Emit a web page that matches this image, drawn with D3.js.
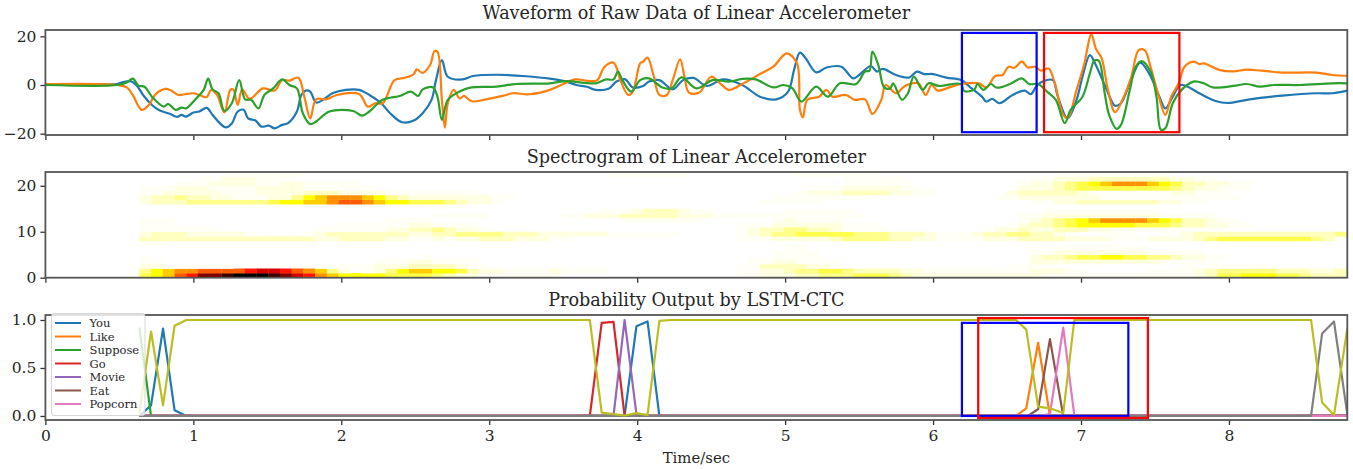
<!DOCTYPE html>
<meta charset="utf-8">
<style>
body { margin: 0; background: #fff; }
svg { display: block; }
text { font-family: "DejaVu Serif", serif; fill: #262626; }
.axis text { font-size: 15.5px; }
.axis path { display: none; }
.axis line { stroke: #333; stroke-width: 1.3; }
.frame { fill: none; stroke: #555; stroke-width: 1.8; }
.title { font-size: 17.6px; text-anchor: middle; }
.wave, .prob { fill: none; stroke-width: 2.2; stroke-linejoin: round; }
.box { fill: none; stroke-width: 2.2; }
.legend text { font-size: 11.5px; }
</style>
<svg width="1353" height="469"></svg>
<script src="https://d3js.org/d3.v7.min.js"></script>
<script>

// time axis shared by the three panels
var xMax = 8.8;
var xTicks = [0, 1, 2, 3, 4, 5, 6, 7, 8];

// raw accelerometer traces
var blueTime = [0, .48, .515, .58, .62, .66, .72, .77, .84, .89, .92, .95, 1, 1.04, 1.09, 1.13, 1.18, 1.22, 1.26, 1.3, 1.34, 1.37, 1.42, 1.46, 1.51, 1.55, 1.6, 1.64, 1.7, 1.73, 1.76, 1.79, 1.83, 1.89, 1.94, 2.03, 2.12, 2.19, 2.27, 2.33, 2.41, 2.49, 2.55, 2.61, 2.64, 2.68, 2.72, 2.82, 2.89, 3.05, 3.25, 3.41, 3.52, 3.59, 3.66, 3.72, 3.81, 3.86, 3.92, 3.97, 4.04, 4.08, 4.15, 4.24, 4.31, 4.38, 4.47, 4.58, 4.71, 4.83, 4.94, 5.02, 5.06, 5.1, 5.14, 5.21, 5.28, 5.38, 5.46, 5.5, 5.58, 5.62, 5.66, 5.75, 5.84, 5.89, 5.94, 6, 6.09, 6.19, 6.26, 6.33, 6.36, 6.4, 6.45, 6.52, 6.56, 6.62, 6.66, 6.7, 6.74, 6.81, 6.84, 6.91, 6.97, 7.01, 7.06, 7.1, 7.17, 7.23, 7.27, 7.33, 7.4, 7.46, 7.53, 7.57, 7.62, 7.67, 7.71, 7.8, 7.91, 7.99, 8.14, 8.36, 8.59, 8.7, 8.8];
var blueValues = [.4, .4, 1, 1.5, -.4, -4.1, -8.2, -10.4, -11.8, -13.1, -12.3, -13, -11.3, -10.9, -9.4, -12.3, -15.8, -17.4, -15.8, -10.9, -10.2, -13.7, -14.6, -17.1, -16.7, -17.8, -16.4, -15.7, -10.9, -4.1, -2.3, -2.7, -7.2, -5.5, -3.4, -2, -2, -4.1, -7.5, -11.6, -15.3, -14.6, -11.6, -6.1, 2, 10.2, 3.4, 2.3, 3.7, 4.2, 3.6, 2.6, 1.4, 0, -.7, -2, -1.4, 1.4, 2.3, -1, -.4, 1.4, 2, -1.8, 2, 2.9, -.4, 2.3, 0, -4.8, -5.9, -2.7, 6.1, 13.3, 10.9, 5.2, 7.2, 7.5, 2.7, 4.1, 7.8, 5.5, 6.6, 4.1, 3.1, 5.5, 4.5, 4.5, 3, 2, -1.4, -4.8, -6.8, -5.7, -7.5, -4.8, -3.4, -2.3, -3.8, -.4, 1.4, 2, -4.1, -13.7, -6.1, 3.4, 12.3, 8.2, -1.4, -8.5, -7.5, .7, 9.2, 4.8, -4.8, -9.6, -4.8, 0, -.4, -3.4, -6.6, -7.4, -5.9, -4.4, -3.4, -3.4, -2.3];

var orangeTime = [0, .49, .55, .59, .65, .7, .74, .81, .85, .9, .94, 1, 1.04, 1.09, 1.12, 1.16, 1.21, 1.25, 1.27, 1.3, 1.33, 1.38, 1.47, 1.55, 1.6, 1.65, 1.71, 1.75, 1.79, 1.83, 1.9, 1.97, 2.12, 2.18, 2.23, 2.28, 2.36, 2.43, 2.49, 2.51, 2.55, 2.6, 2.63, 2.65, 2.68, 2.7, 2.72, 2.76, 2.8, 2.83, 2.88, 2.98, 3.09, 3.16, 3.27, 3.41, 3.5, 3.58, 3.68, 3.73, 3.78, 3.84, 3.89, 3.94, 3.97, 4.02, 4.04, 4.07, 4.11, 4.15, 4.2, 4.24, 4.29, 4.32, 4.35, 4.42, 4.5, 4.56, 4.62, 4.71, 4.83, 4.92, 5.01, 5.08, 5.1, 5.12, 5.15, 5.23, 5.28, 5.32, 5.41, 5.47, 5.54, 5.59, 5.65, 5.68, 5.75, 5.81, 5.9, 5.95, 5.99, 6.03, 6.11, 6.19, 6.31, 6.36, 6.42, 6.47, 6.51, 6.55, 6.6, 6.64, 6.69, 6.73, 6.78, 6.82, 6.88, 6.91, 6.97, 7.02, 7.07, 7.1, 7.14, 7.18, 7.23, 7.28, 7.34, 7.39, 7.43, 7.47, 7.52, 7.57, 7.61, 7.66, 7.7, 7.76, 7.8, 7.83, 7.94, 8.03, 8.12, 8.22, 8.36, 8.59, 8.7, 8.8];
var orangeValues = [.4, 0, -1, -4.1, -10.2, -8.2, -4.1, -1.6, -2.3, -4.1, -3.8, -3.4, -4.1, -5, -2, -4.1, -11.3, -2, -1.8, -8.2, -1.8, -5.7, -1.4, -2.3, 2, 1.8, 3, -4.8, -13.7, -5.9, -5.9, -4.1, -3.7, -8.9, -7.5, -7.5, 2, 3, 4.5, 6.4, 5, 8.2, 13.9, 13.7, -6.1, -17.5, -7.5, -2, -5.5, -4.5, -6.7, -5.9, -4.5, -3.4, -3.8, -2, .4, 2.3, 1.6, 2, 7.5, 9.2, 1.4, -4.1, -2.7, 8.9, 9.6, 11.3, 4.1, -4.1, -4.1, 2, 10.5, 3.4, -3.1, -3.1, 3.4, .7, -2, .4, 4.5, 7.5, 13, 8.9, -10.2, -13.3, -6.1, -4.8, -2, -4.8, -4.1, -6.1, -5.9, -11.9, -6.1, 0, -3.4, -.4, .7, -4.1, 0, -2.3, -1, .4, .7, -1, 3.7, 4.1, 7.5, 7.1, 9.6, 7.2, 7.5, 5.9, 6.8, 1.4, -12.3, -13.7, -2, 8.2, 20.8, 15, 10.9, -1.4, -11.2, -6.1, 3.4, 14.3, 14.3, 7.5, -3.4, -12.3, -4.8, .7, 7.5, 9.6, 8.6, 8.9, 6.1, 5.6, 6.3, 5.9, 5.1, 5.1, 4.1, 3.8];

var greenTime = [0, .49, .55, .59, .63, .67, .72, .8, .83, .88, .92, .95, 1.02, 1.07, 1.1, 1.13, 1.17, 1.21, 1.26, 1.31, 1.35, 1.39, 1.44, 1.48, 1.54, 1.6, 1.65, 1.7, 1.74, 1.79, 1.83, 1.92, 2.08, 2.14, 2.19, 2.28, 2.4, 2.47, 2.52, 2.55, 2.62, 2.65, 2.68, 2.72, 2.8, 2.87, 3.05, 3.18, 3.41, 3.52, 3.72, 3.79, 3.84, 3.87, 3.9, 3.96, 4.02, 4.08, 4.17, 4.23, 4.3, 4.4, 4.51, 4.62, 4.71, 4.8, 4.92, 4.99, 5.05, 5.11, 5.21, 5.29, 5.37, 5.48, 5.54, 5.57, 5.59, 5.63, 5.67, 5.71, 5.73, 5.79, 5.83, 5.87, 5.93, 5.97, 6.04, 6.19, 6.21, 6.28, 6.3, 6.34, 6.39, 6.43, 6.52, 6.6, 6.65, 6.71, 6.77, 6.83, 6.89, 6.93, 7.01, 7.06, 7.09, 7.12, 7.16, 7.19, 7.24, 7.27, 7.33, 7.37, 7.41, 7.47, 7.51, 7.54, 7.57, 7.62, 7.68, 7.76, 7.83, 7.89, 8.03, 8.12, 8.21, 8.3, 8.48, 8.7, 8.8];
var greenValues = [0, 0, 1, 2.6, -.3, -.7, -4.8, -8.9, -7.8, -10.2, -9.3, -9.6, -5.5, -2, 2.6, -1.8, -3.4, -10.7, -7.5, 2, -5.9, -6.1, -9.6, -4.1, -1.4, 2.3, 0, -1.4, -11.6, -16.1, -15, -10.9, -10.7, -12.6, -10.9, -6.1, -4.4, -2.7, -4.5, -1.8, -1, -4.8, -14.3, -6.1, -2.7, -1.1, -.7, .4, .7, 1.6, .7, 2.3, 2.3, 5.5, 2, -2.7, 2, 2.7, -1, -1.4, 3.1, -1.4, 2, 1.4, 2.5, 2.3, -1, 0, -1.4, -6.8, -.7, -4.8, .7, .4, 5.5, 5.9, 13.7, 8.2, -1, -1.4, .7, -6.1, -3.4, 3.4, -2, .7, -.4, .4, -2.5, -1.8, .4, -2, .4, -1.1, .4, 2.7, .4, .4, -2.7, -6.1, -15.7, -10.2, -4.8, 4.8, 10, 10, -3.4, -12.3, -18, -16.4, -2, 7.5, 9.8, 5.5, -4.8, -18.4, -17.8, -7.5, -2, 1.4, .7, -1, -.4, .4, -.7, 0, 0, .7, .7];

// spectrogram: one string per 1 Hz row from 0 Hz up, one character per time frame,
// each character is an index into specLevels
var specStart = .635;
var specStep = .0792;
var specLevels = { "0": 0, "1": .01, "2": .03, "3": .065, "4": .12, "5": .18, "6": .254, "7": .33, "8": .42, "9": .5, "a": .6, "b": .7, "c": .82, "d": .92, "e": 1 };
var specRows = [
  "5679accdeeedcba8766665555 43221111111000000000000000 1122233444555432222222222 211111111111112355666554333",
  "467889999abba987420124677 66532211112111100000000000 1122344554333322111111111 222110000011112344444333223",
  "2211111100000001111122233 33211000000000000000000000 1133332210000000000000011 110000000000010111111000000",
  "1100000000000000000011122 11110000000000000000000000 0112211110000000000000000 222222222221111000000000000",
  "1000000000000000000000001 00000000000000000000000000 0001111000000000000000000 233455665544322110000000000",
  "0000000000000000000000000 00000000000000000000000000 0001111000000000000000000 112222222211111000000000000",
  "0000000000000000000000000 00000000000000000000000000 0000110000000000000000000 001111111100000000000000000",
  "1100000000000000000000000 00000000000000000000000000 0000000000000000000000000 000000000000000000000000000",
  "3333333333333332233332211 21223332221100000000000000 1112222234444332211112223 333222211122223455555555431",
  "2333222221000012333333322 33444433322222211111100000 1234455555444333211123344 332100111001123333333333334",
  "1111111000000001111112233 43221000000000000000000000 1233443321111000000001223 223332211111111110000000000",
  "1110000000000000011111122 11110000000000000000000000 1112222221110000000000012 334566666555433221100000000",
  "1110000000000000000001111 00000000000000001111111000 0001211110000000000000001 234567888876533211000000000",
  "0000000000000000000000000 11111000000112223333322211 1111111111100000000000001 122222222221111100000000000",
  "0000000000000000000000000 00000000000000111233321100 0000111111000000000000000 011111111110000000000000000",
  "0000000000000000000000000 00000000000000000000000000 0000000000000000000000000 000000000000000000000000000",
  "2333444444456677899876655 54322100000000000000000000 0011111000000000000000000 112233333332211000000000000",
  "2334332211122467888764322 22222110000000000000000000 0001111111100000000000112 222222111111111111000000000",
  "1122222111222233322221111 11110000000000000000000000 0000012223333221100000023 333321111111221110000000000",
  "1112221111222211111100000 00000000000000000000000000 0000001112222211000000002 223455555555432211100000000",
  "0001112222112211111000000 00000000000000000000000000 0000000001111110000000001 223456788876533221100000000",
  "0000011222111000000000000 00000000000000000000000000 0000000001111100000000000 112223333333221100000000000",
  "0000000111111100000000000 00000000000000011111110000 0000011111110000000000000 001111111111000000000000000"
];

// network output per word
var wordNames = ["You", "Like", "Suppose", "Go", "Movie", "Eat", "Popcorn"];
var youTime = [.635, .714, .795, .873, .952, 3.915, 3.995, 4.07, 4.15, 8.8];
var youValues = [0, .11, .91, .06, 0, 0, .935, .985, 0, 0];
var likeTime = [.635, 6.56, 6.63, 6.71, 6.79, 8.8];
var likeValues = [0, 0, .08, .763, 0, 0];
var supposeTime = [.635, .714, 8.8];
var supposeValues = [.92, 0, 0];
var goTime = [.635, 3.68, 3.76, 3.84, 3.915, 8.8];
var goValues = [0, 0, .97, .98, 0, 0];
var movieTime = [.635, 3.84, 3.915, 3.995, 4.07, 8.8];
var movieValues = [0, 0, 1, .02, 0, 0];
var eatTime = [.635, 6.64, 6.71, 6.79, 6.88, 8.8];
var eatValues = [0, 0, .07, .8, 0, 0];
var popcornTime = [.635, 6.71, 6.79, 6.88, 6.955, 8.8];
var popcornValues = [0, 0, .02, .92, 0, 0];
var otherTime = [.635, 8.555, 8.63, 8.71, 8.8];
var otherValues = [0, 0, .86, .985, .02];
var blankTime = [.635, .714, .795, .873, .952, 3.68, 3.76, 3.84, 3.915, 3.995, 4.07, 4.15, 4.23, 6.56, 6.63, 6.71, 6.79, 6.88, 6.955, 8.555, 8.63, 8.71, 8.8];
var blankValues = [.03, .88, .11, .94, 1, 1, .035, .02, .005, .03, .01, .99, 1, 1, .9, .097, .08, .03, 1, 1, .14, .01, .91];

// highlighted regions: [t0, t1, low, high]
var waveBoxBlue = [6.195, 6.7, -19.4, 21.4];
var waveBoxRed = [6.75, 7.665, -19.4, 21.4];
var probBoxBlue = [6.195, 7.32, 0, .97];
var probBoxRed = [6.305, 7.452, -.02, 1.02];

var tab = ["#1f77b4", "#ff7f0e", "#2ca02c", "#d62728", "#9467bd", "#8c564b", "#e377c2", "#7f7f7f", "#bcbd22"];

var svg = d3.select("svg");
var left = 45.4, right = 1347.3;
var x = d3.scaleLinear().domain([0, xMax]).range([left, right]);

var yWave = d3.scaleLinear().domain([-20.55, 22.6]).range([135, 30]);
var ySpec = d3.scaleLinear().domain([0, 23]).range([277.7, 172]);
var yProb = d3.scaleLinear().domain([-.042, 1.052]).range([420, 315]);

// matplotlib hot_r
var heat = d3.scaleLinear()
    .domain([0, .254, .635, 1])
    .range(["#ffffff", "#ffff00", "#ff0000", "#000000"]);

svg.append("clipPath").attr("id", "wave-clip").append("rect")
    .attr("x", left).attr("y", 30).attr("width", right - left).attr("height", 105);
svg.append("clipPath").attr("id", "prob-clip").append("rect")
    .attr("x", left).attr("y", 315).attr("width", right - left).attr("height", 105);

function zipLine(times, values) {
  return times.map(function(t, i) { return [t, values[i]]; });
}

function drawBox(g, y, box, color) {
  g.append("rect")
      .attr("class", "box")
      .attr("x", x(box[0]))
      .attr("y", y(box[3]))
      .attr("width", x(box[1]) - x(box[0]))
      .attr("height", y(box[2]) - y(box[3]))
      .attr("stroke", color);
}

function drawAxes(y, yTicks, fmt, showX, title, titleY) {
  var b = y.range()[0], t = y.range()[1];
  svg.append("g")
      .attr("class", "axis")
      .attr("transform", "translate(0," + b + ")")
      .call(d3.axisBottom(x).tickValues(xTicks).tickSize(5).tickPadding(5)
        .tickFormat(showX ? d3.format("d") : ""));
  svg.append("g")
      .attr("class", "axis")
      .attr("transform", "translate(" + left + ",0)")
      .call(d3.axisLeft(y).tickValues(yTicks).tickSize(5).tickPadding(4).tickFormat(fmt));
  svg.append("rect")
      .attr("class", "frame")
      .attr("x", left).attr("y", t)
      .attr("width", right - left).attr("height", b - t);
  svg.append("text")
      .attr("class", "title")
      .attr("x", (left + right) / 2)
      .attr("y", titleY)
      .text(title);
}

// top panel
var waveLine = d3.line()
    .x(function(d) { return x(d[0]); })
    .y(function(d) { return yWave(d[1]); })
    .curve(d3.curveCatmullRom.alpha(.5));

var waveG = svg.append("g").attr("clip-path", "url(#wave-clip)");
[[blueTime, blueValues], [orangeTime, orangeValues], [greenTime, greenValues]].forEach(function(s, i) {
  waveG.append("path")
      .attr("class", "wave")
      .attr("stroke", tab[i])
      .attr("d", waveLine(zipLine(s[0], s[1])));
});
drawBox(waveG, yWave, waveBoxBlue, "#0000ff");
drawBox(waveG, yWave, waveBoxRed, "#ff0000");
drawAxes(yWave, [-20, 0, 20], d3.format("d"), false, "Waveform of Raw Data of Linear Accelerometer", 19);

// spectrogram
var specG = svg.append("g");
specRows.forEach(function(row, r) {
  row.replace(/ /g, "").split("").forEach(function(ch, c) {
    if (ch == "0") return;
    var t0 = specStart + c * specStep;
    specG.append("rect")
        .attr("x", x(t0))
        .attr("y", ySpec(r + 1))
        .attr("width", x(t0 + specStep) - x(t0) + .3)
        .attr("height", ySpec(r) - ySpec(r + 1) + .3)
        .attr("fill", heat(specLevels[ch]));
  });
});
drawAxes(ySpec, [0, 10, 20], d3.format("d"), false, "Spectrogram of Linear Accelerometer", 163);

// probability panel
var probLine = d3.line()
    .x(function(d) { return x(d[0]); })
    .y(function(d) { return yProb(d[1]); });

var probG = svg.append("g").attr("clip-path", "url(#prob-clip)");
[[youTime, youValues], [likeTime, likeValues], [supposeTime, supposeValues], [goTime, goValues],
 [movieTime, movieValues], [eatTime, eatValues], [popcornTime, popcornValues], [otherTime, otherValues],
 [blankTime, blankValues]].forEach(function(s, i) {
  probG.append("path")
      .attr("class", "prob")
      .attr("stroke", tab[i])
      .attr("d", probLine(zipLine(s[0], s[1])));
});
drawBox(probG, yProb, probBoxBlue, "#0000ff");
drawBox(probG, yProb, probBoxRed, "#ff0000");
drawAxes(yProb, [0, .5, 1], d3.format(".1f"), true, "Probability Output by LSTM-CTC", 306);

svg.append("text")
    .attr("x", (left + right) / 2)
    .attr("y", 463)
    .attr("text-anchor", "middle")
    .style("font-size", "14.9px")
    .text("Time/sec");

// legend sits over the curves and the top spine
var legend = svg.append("g").attr("class", "legend");
legend.append("rect")
    .attr("x", 51.5).attr("y", 313.5)
    .attr("width", 93.5).attr("height", 102)
    .attr("rx", 2.5)
    .attr("fill", "#fff").attr("fill-opacity", .8)
    .attr("stroke", "#ccc").attr("stroke-opacity", .8);
wordNames.forEach(function(name, i) {
  var ly = 323 + i * 13.5;
  legend.append("line")
      .attr("x1", 55).attr("x2", 81)
      .attr("y1", ly).attr("y2", ly)
      .attr("stroke", tab[i]).attr("stroke-width", 2);
  legend.append("text")
      .attr("x", 89.5).attr("y", ly + 4)
      .text(name);
});

</script>
